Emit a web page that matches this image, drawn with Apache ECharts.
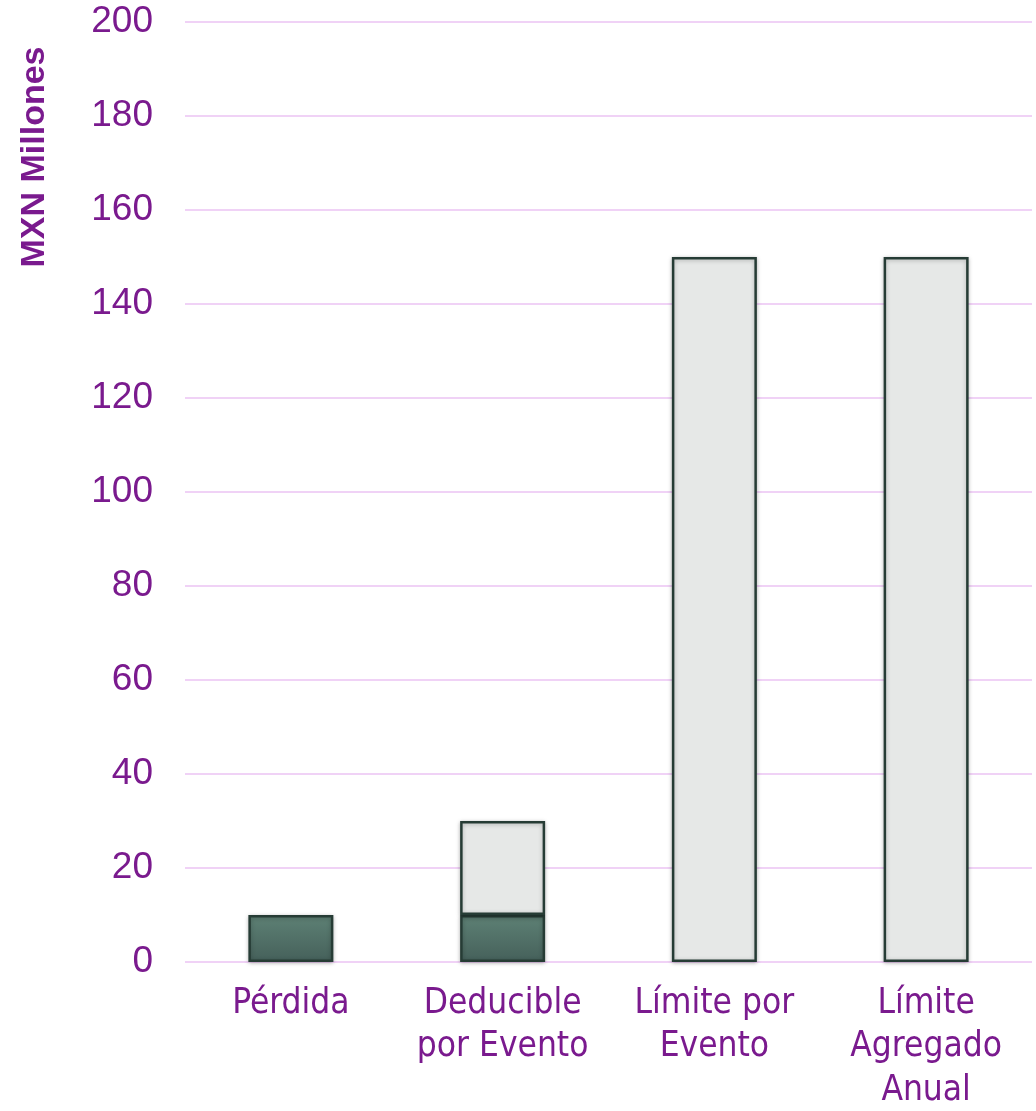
<!DOCTYPE html>
<html><head><meta charset="utf-8">
<script src="https://cdn.jsdelivr.net/npm/echarts@6/dist/echarts.min.js"></script>
<style>html,body{margin:0;padding:0;background:#fff}#c{width:1036px;height:1111px}</style>
</head><body><div id="c"></div>
<script>
const categories = ['Pérdida', 'Deducible\npor Evento', 'Límite por\nEvento', 'Límite\nAgregado\nAnual'];
const lossValues = [10, 10, null, null];
const limitValues = [null, 20, 150, 150];
const yTicks = {min: 0, max: 200, interval: 20};
const axisTitle = 'MXN Millones';

const purple = '#7A1A8E';
const chart = echarts.init(document.getElementById('c'));
chart.setOption({
  animation: false,
  grid: {left: 185, right: 4, top: 22, bottom: 149, outerBoundsMode: 'none', containLabel: false},
  xAxis: {
    type: 'category', data: categories,
    axisLine: {show: false}, axisTick: {show: false},
    axisLabel: {color: purple, fontSize: 35, fontFamily: '"DejaVu Sans Condensed", "Liberation Sans", sans-serif', lineHeight: 43.5, margin: 20, interval: 0}
  },
  yAxis: {
    type: 'value', min: yTicks.min, max: yTicks.max, interval: yTicks.interval,
    axisLine: {show: false}, axisTick: {show: false},
    axisLabel: {color: purple, fontSize: 37, fontFamily: 'Liberation Sans, Arial, sans-serif', margin: 32},
    splitLine: {lineStyle: {color: '#F0D2F6', width: 2}}
  },
  graphic: [{
    type: 'text', x: 35, y: 157, rotation: Math.PI / 2,
    style: {text: axisTitle, fill: purple, font: 'bold 34px "Liberation Sans", Arial, sans-serif', align: 'center', verticalAlign: 'middle'}
  }],
  series: [
    {
      type: 'bar', stack: 's', data: lossValues, barWidth: 85,
      itemStyle: {
        color: {type: 'linear', x: 0, y: 0, x2: 0, y2: 1, colorStops: [{offset: 0, color: '#5E8175'}, {offset: 1, color: '#45605A'}]},
        borderColor: '#263C35', borderWidth: 2.5,
        shadowColor: 'rgba(0,0,0,0.25)', shadowBlur: 4, shadowOffsetY: 1
      }
    },
    {
      type: 'bar', stack: 's', data: limitValues, barWidth: 85,
      itemStyle: {
        color: '#E6E8E7', borderColor: '#263C35', borderWidth: 2.5,
        shadowColor: 'rgba(0,0,0,0.25)', shadowBlur: 4, shadowOffsetY: 1
      }
    }
  ]
});
</script></body></html>
